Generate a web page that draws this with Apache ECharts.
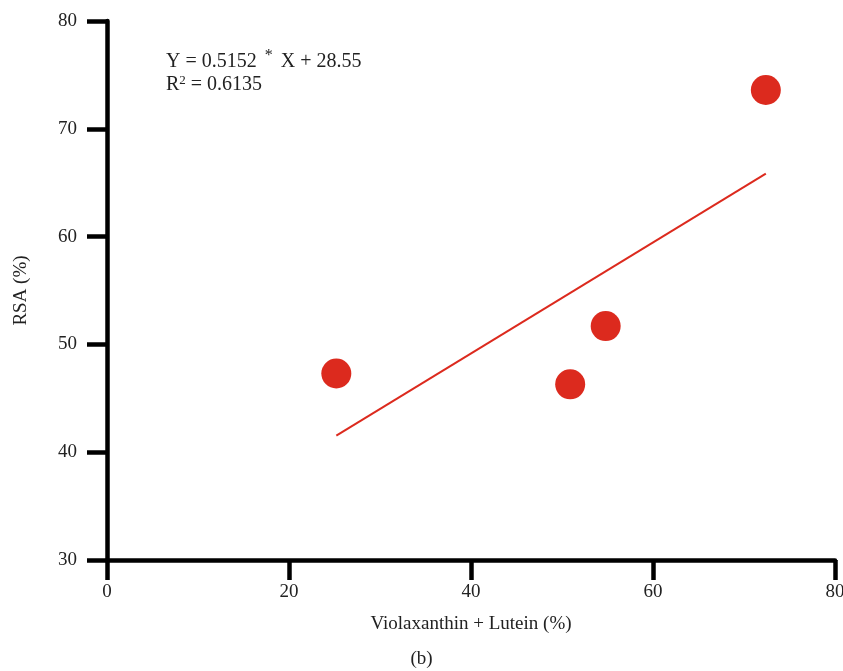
<!DOCTYPE html>
<html>
<head>
<meta charset="utf-8">
<script src="https://cdn.jsdelivr.net/npm/echarts@6/dist/echarts.min.js"></script>
<style>
  html, body { margin: 0; padding: 0; background: #fff; }
  #chart { width: 843px; height: 671px; }
</style>
</head>
<body>
<div id="chart"></div>
<script>
// data
const xValues = [25.2, 50.9, 54.8, 72.4]   // Violaxanthin + Lutein (%)
const yValues = [47.3, 46.3, 51.7, 73.6]   // RSA (%)
const slope = 0.5152
const intercept = 28.55
const fitRange = [25.2, 72.4]
const xTicks = [0, 20, 40, 60, 80]
const yTicks = [30, 40, 50, 60, 70, 80]

const red = '#dc2a1e'
const font = '"Liberation Serif", "DejaVu Serif", serif'
const fs = 19

const points = xValues.map((x, i) => [x, yValues[i]])
const fitLine = fitRange.map(x => [x, slope * x + intercept])

const chart = echarts.init(document.getElementById('chart'))

chart.setOption({
  animation: false,
  grid: { left: 107, right: 8, top: 21, bottom: 111, outerBoundsMode: 'none', containLabel: false },
  xAxis: {
    type: 'value',
    min: xTicks[0],
    max: xTicks[xTicks.length - 1],
    interval: 20,
    name: 'Violaxanthin + Lutein (%)',
    nameLocation: 'middle',
    nameGap: 55,
    nameTextStyle: { fontFamily: font, fontSize: fs, color: '#222' },
    axisLine: { onZero: false, lineStyle: { color: '#000', width: 4.5 } },
    axisTick: { show: true, inside: false, length: 20, lineStyle: { color: '#000', width: 4.5 } },
    axisLabel: { margin: 23, fontFamily: font, fontSize: fs, color: '#222' },
    splitLine: { show: false }
  },
  yAxis: {
    type: 'value',
    min: yTicks[0],
    max: yTicks[yTicks.length - 1],
    interval: 10,
    name: 'RSA (%)',
    nameLocation: 'middle',
    nameGap: 76,
    nameTextStyle: { fontFamily: font, fontSize: fs, color: '#222' },
    axisLine: { onZero: false, lineStyle: { color: '#000', width: 4.5 } },
    axisTick: { show: true, inside: false, length: 20, lineStyle: { color: '#000', width: 4.5 } },
    axisLabel: { margin: 30, fontFamily: font, fontSize: fs, color: '#222' },
    splitLine: { show: false }
  },
  graphic: [
    {
      type: 'text',
      left: 166,
      top: 48,
      style: {
        text: '{n|Y = 0.5152 }{s|*}{n| X + 28.55}',
        rich: {
          n: { fontFamily: font, fontSize: 20, fill: '#222' },
          s: { fontFamily: font, fontSize: 16, fill: '#222', padding: [0, 3, 12, 3] }
        }
      }
    },
    {
      type: 'text',
      left: 166,
      top: 74,
      style: {
        text: '{n|R}{s|2}{n| = 0.6135}',
        rich: {
          n: { fontFamily: font, fontSize: 20, fill: '#222' },
          s: { fontFamily: font, fontSize: 13, fill: '#222', padding: [0, 0, 9, 0] }
        }
      }
    },
    {
      type: 'text',
      left: 'center',
      top: 650,
      style: { text: '(b)', fontFamily: font, fontSize: fs, fill: '#222' }
    }
  ],
  series: [
    {
      type: 'line',
      data: fitLine,
      symbol: 'none',
      lineStyle: { color: red, width: 2 },
      z: 2
    },
    {
      type: 'scatter',
      data: points,
      symbolSize: 30,
      itemStyle: { color: red, opacity: 1 },
      z: 3
    }
  ]
})
</script>
</body>
</html>
